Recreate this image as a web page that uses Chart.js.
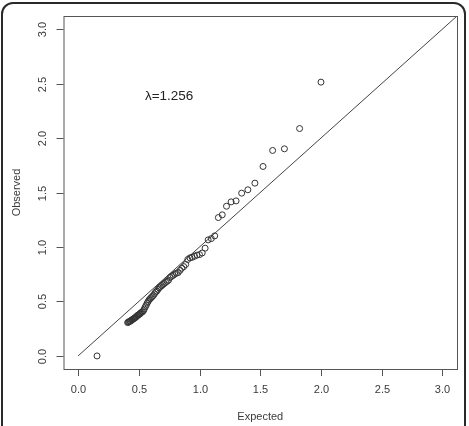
<!DOCTYPE html>
<html>
<head>
<meta charset="utf-8">
<script src="https://cdn.jsdelivr.net/npm/chart.js@4"></script>
<style>
  html, body { margin: 0; padding: 0; background: #fff; overflow: hidden; }
  #frame {
    position: absolute; left: 1px; top: 2px; width: 465px; height: 450px;
    border: 2px solid #2a2a2a; border-radius: 12px; box-sizing: border-box;
  }
  #wrap { position: absolute; left: 0; top: 0; width: 469px; height: 426px; }
</style>
</head>
<body>
<div id="frame"></div>
<div id="wrap"><canvas id="qq" width="469" height="426"></canvas></div>
<script>
// expected -log10(p) vs observed -log10(p)
const expected = [
  2.000, 1.824, 1.699, 1.602, 1.523, 1.456, 1.398, 1.347, 1.301, 1.260,
  1.222, 1.187, 1.155, 1.125, 1.097, 1.071, 1.046, 1.022, 1.000, 0.979,
  0.959, 0.939, 0.921, 0.903, 0.886, 0.870, 0.854, 0.839, 0.824, 0.810,
  0.796, 0.783, 0.770, 0.757, 0.745, 0.733, 0.721, 0.709, 0.699, 0.688,
  0.678, 0.668, 0.658, 0.648, 0.638, 0.629, 0.620, 0.611, 0.602, 0.594,
  0.585, 0.577, 0.569, 0.561, 0.553, 0.545, 0.538, 0.530, 0.523, 0.516,
  0.509, 0.502, 0.495, 0.488, 0.481, 0.475, 0.468, 0.462, 0.456, 0.449,
  0.443, 0.437, 0.431, 0.426, 0.420, 0.414, 0.408, 0.156
];
const observed = [
  2.513, 2.087, 1.901, 1.886, 1.739, 1.586, 1.525, 1.494, 1.423, 1.414,
  1.374, 1.295, 1.270, 1.102, 1.077, 1.065, 0.989, 0.945, 0.930, 0.925,
  0.915, 0.905, 0.900, 0.885, 0.840, 0.820, 0.805, 0.785, 0.765, 0.760,
  0.750, 0.740, 0.730, 0.720, 0.695, 0.685, 0.675, 0.665, 0.655, 0.645,
  0.635, 0.625, 0.610, 0.595, 0.585, 0.570, 0.555, 0.545, 0.535, 0.525,
  0.515, 0.500, 0.485, 0.465, 0.450, 0.430, 0.415, 0.405, 0.400, 0.395,
  0.385, 0.380, 0.375, 0.370, 0.362, 0.355, 0.350, 0.345, 0.340, 0.335,
  0.330, 0.325, 0.320, 0.318, 0.314, 0.310, 0.306, 0.000
];
const diagX = [0, 3.12];
const diagY = [0, 3.12];
const xTicks = [0, 0.5, 1, 1.5, 2, 2.5, 3];
const yTicks = [0, 0.5, 1, 1.5, 2, 2.5, 3];
const xTitle = 'Expected';
const yTitle = 'Observed';
const lambdaText = 'λ=1.256';
const lambdaPos = [0.75, 2.38];

const ink = '#3a3a3a';
const font = '"Liberation Sans", Arial, sans-serif';

// R-style box, ticks and labels, drawn from the chart's scales
const rAxes = {
  id: 'rAxes',
  afterDraw(chart) {
    const { ctx, chartArea: a, scales: { x, y } } = chart;
    ctx.save();
    ctx.strokeStyle = '#555';
    ctx.lineWidth = 1;
    ctx.strokeRect(a.left + 0.5, a.top + 0.5, a.right - a.left, a.bottom - a.top);

    ctx.fillStyle = ink;
    ctx.font = '11px ' + font;
    ctx.textAlign = 'center';
    ctx.textBaseline = 'middle';
    xTicks.forEach(v => {
      const px = Math.round(x.getPixelForValue(v)) + 0.5;
      ctx.beginPath();
      ctx.moveTo(px, a.bottom);
      ctx.lineTo(px, a.bottom + 7);
      ctx.stroke();
      ctx.fillText(v.toFixed(1), px, 390);
    });
    yTicks.forEach(v => {
      const py = Math.round(y.getPixelForValue(v)) + 0.5;
      ctx.beginPath();
      ctx.moveTo(a.left - 7, py);
      ctx.lineTo(a.left, py);
      ctx.stroke();
      ctx.save();
      ctx.translate(43, py);
      ctx.rotate(-Math.PI / 2);
      ctx.fillText(v.toFixed(1), 0, 0);
      ctx.restore();
    });

    ctx.fillText(xTitle, (a.left + a.right) / 2, 417);
    ctx.save();
    ctx.translate(17, (a.top + a.bottom) / 2);
    ctx.rotate(-Math.PI / 2);
    ctx.fillText(yTitle, 0, 0);
    ctx.restore();

    ctx.font = '13.5px ' + font;
    ctx.fillStyle = '#222';
    ctx.fillText(lambdaText, x.getPixelForValue(lambdaPos[0]), y.getPixelForValue(lambdaPos[1]));
    ctx.restore();
  }
};

new Chart(document.getElementById('qq'), {
  type: 'scatter',
  data: {
    datasets: [
      {
        label: 'observed',
        data: expected.map((e, i) => ({ x: e, y: observed[i] })),
        pointRadius: 3,
        pointBorderWidth: 1,
        pointBorderColor: '#333',
        pointBackgroundColor: 'rgba(0,0,0,0)'
      },
      {
        label: 'y = x',
        data: diagX.map((v, i) => ({ x: v, y: diagY[i] })),
        showLine: true,
        pointRadius: 0,
        borderColor: '#444',
        borderWidth: 1
      }
    ]
  },
  options: {
    responsive: false,
    animation: false,
    layout: { padding: { left: 63.5, right: 12, top: 16, bottom: 57 } },
    plugins: { legend: { display: false }, tooltip: { enabled: false } },
    scales: {
      x: { type: 'linear', min: -0.12, max: 3.12, display: false },
      y: { type: 'linear', min: -0.12, max: 3.12, display: false }
    }
  },
  plugins: [rAxes]
});
</script>
</body>
</html>
